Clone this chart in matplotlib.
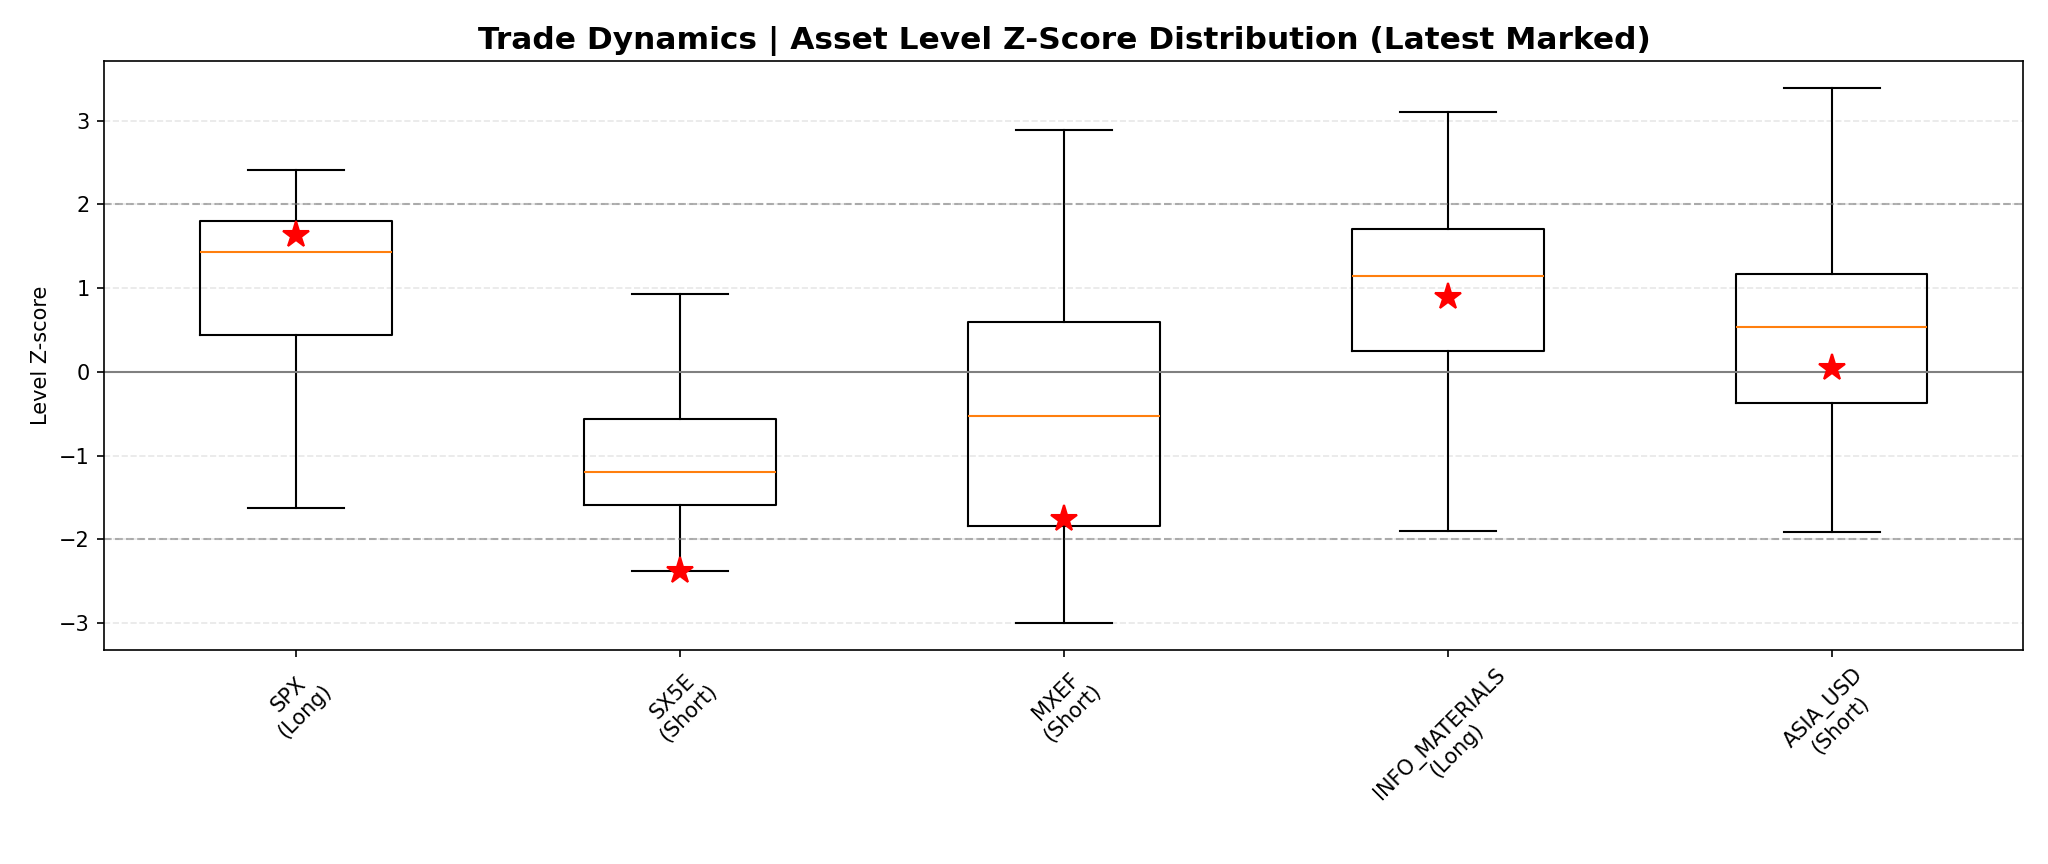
import matplotlib.pyplot as plt

assets = ["SPX", "SX5E", "MXEF", "INFO_MATERIALS", "ASIA_USD"]
sides = ["Long", "Short", "Short", "Long", "Short"]

# distribution summary (whiskers = min / max)
z_min = [-1.63, -2.38, -3.00, -1.90, -1.91]
z_q1 = [0.435, -1.59, -1.84, 0.25, -0.37]
z_med = [1.43, -1.20, -0.53, 1.15, 0.53]
z_q3 = [1.80, -0.56, 0.59, 1.71, 1.17]
z_max = [2.41, 0.93, 2.89, 3.11, 3.39]
z_latest = [1.63, -2.38, -1.76, 0.90, 0.05]

stats = []
for i in range(len(assets)):
    stats.append({
        "whislo": z_min[i], "q1": z_q1[i], "med": z_med[i],
        "q3": z_q3[i], "whishi": z_max[i], "fliers": [],
    })

fig, ax = plt.subplots(figsize=(2048 / 150, 864 / 150), dpi=150)
positions = list(range(1, len(assets) + 1))
ax.bxp(stats, positions=positions, showfliers=False)

ax.plot(positions, z_latest, linestyle="none", marker="*", color="red",
        markersize=13, zorder=4)

ax.axhline(0, color="gray", linewidth=1)
ax.axhline(2, color="gray", linestyle="--", linewidth=1, alpha=0.6)
ax.axhline(-2, color="gray", linestyle="--", linewidth=1, alpha=0.6)
ax.grid(axis="y", linestyle="--", alpha=0.3)
ax.set_axisbelow(True)

ax.set_xticks(positions)
ax.set_xticklabels([f"{a}\n({s})" for a, s in zip(assets, sides)], rotation=45)
ax.set_xlim(0.5, len(assets) + 0.5)
ax.set_ylabel("Level Z-score")
ax.set_title("Trade Dynamics | Asset Level Z-Score Distribution (Latest Marked)",
             fontsize=15, fontweight="bold")

fig.subplots_adjust(left=0.051, right=0.988, top=0.929, bottom=0.248)
fig.savefig("out.png", dpi=150)
